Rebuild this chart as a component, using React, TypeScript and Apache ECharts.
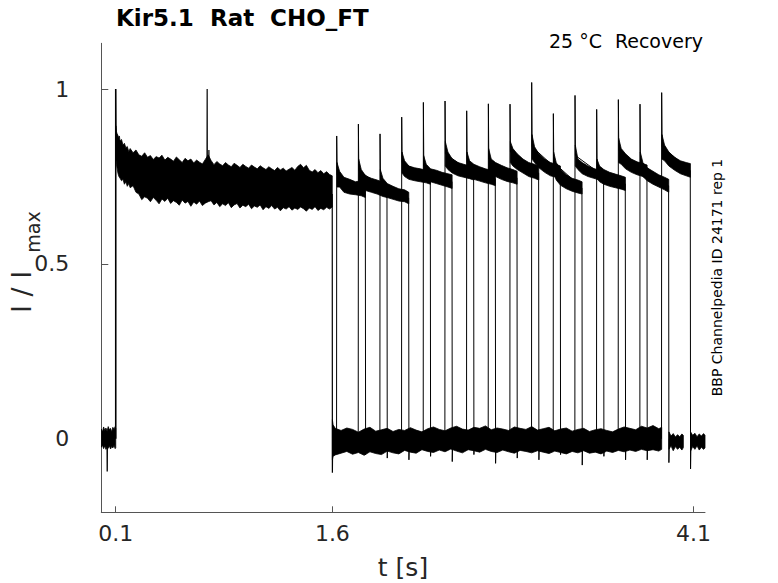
import React, { useEffect, useRef } from "react";
import * as echarts from "echarts";

// ---- axis ticks ----
const xTicks = [0.1, 1.6, 4.1];
const yTicks = [0, 0.5, 1];

// ---- baseline before the first pulse (noise band envelope) ----
const preT = [0, 0.008, 0.016, 0.024, 0.032, 0.04, 0.048, 0.056, 0.064, 0.072, 0.08, 0.088, 0.096, 0.1];
const preHi = [0.028, 0.02, 0.034, 0.024, 0.031, 0.022, 0.035, 0.026, 0.03, 0.02, 0.033, 0.027, 0.035, 0.03];
const preLo = [-0.024, -0.018, -0.028, -0.02, -0.03, -0.024, -0.027, -0.02, -0.029, -0.022, -0.026, -0.018, -0.028, -0.025];

// ---- first pulse (all sweeps overlaid), envelope of the noisy band ----
const p1T = [0.101, 0.105, 0.11, 0.115, 0.12, 0.125, 0.13, 0.14, 0.15, 0.16, 0.17, 0.18, 0.19, 0.2, 0.22, 0.24, 0.26, 0.28, 0.3, 0.32, 0.34, 0.36, 0.38, 0.4, 0.42, 0.44, 0.46, 0.48, 0.5, 0.52, 0.54, 0.56, 0.58, 0.6, 0.62, 0.64, 0.66, 0.68, 0.7, 0.72, 0.74, 0.76, 0.78, 0.8, 0.82, 0.84, 0.86, 0.88, 0.9, 0.92, 0.94, 0.96, 0.98, 1.0, 1.02, 1.04, 1.06, 1.08, 1.1, 1.12, 1.14, 1.16, 1.18, 1.2, 1.22, 1.24, 1.26, 1.28, 1.3, 1.32, 1.34, 1.36, 1.38, 1.4, 1.42, 1.44, 1.46, 1.48, 1.5, 1.52, 1.54, 1.56, 1.58, 1.599];
const p1Hi = [0.895, 0.878, 0.872, 0.868, 0.861, 0.866, 0.852, 0.856, 0.84, 0.845, 0.832, 0.836, 0.821, 0.83, 0.818, 0.826, 0.812, 0.808, 0.818, 0.805, 0.81, 0.799, 0.807, 0.803, 0.811, 0.797, 0.805, 0.8, 0.794, 0.806, 0.798, 0.79, 0.802, 0.795, 0.8, 0.789, 0.797, 0.791, 0.786, 0.799, 0.812, 0.796, 0.784, 0.793, 0.786, 0.781, 0.79, 0.783, 0.778, 0.788, 0.782, 0.776, 0.785, 0.779, 0.774, 0.783, 0.777, 0.772, 0.781, 0.775, 0.77, 0.778, 0.772, 0.767, 0.776, 0.769, 0.774, 0.766, 0.771, 0.776, 0.768, 0.779, 0.785, 0.775, 0.782, 0.768, 0.763, 0.77, 0.761, 0.767, 0.758, 0.764, 0.756, 0.752];
const p1Lo = [0.8, 0.785, 0.772, 0.76, 0.752, 0.748, 0.745, 0.738, 0.742, 0.728, 0.735, 0.722, 0.73, 0.718, 0.724, 0.705, 0.7, 0.684, 0.692, 0.688, 0.678, 0.69, 0.682, 0.672, 0.686, 0.679, 0.688, 0.673, 0.681, 0.676, 0.668, 0.683, 0.674, 0.679, 0.665, 0.677, 0.671, 0.68, 0.667, 0.674, 0.678, 0.681, 0.669, 0.676, 0.664, 0.672, 0.667, 0.675, 0.661, 0.669, 0.673, 0.66, 0.668, 0.664, 0.671, 0.658, 0.666, 0.662, 0.669, 0.655, 0.664, 0.659, 0.667, 0.657, 0.662, 0.652, 0.661, 0.657, 0.664, 0.654, 0.66, 0.656, 0.663, 0.658, 0.651, 0.66, 0.656, 0.664, 0.653, 0.659, 0.655, 0.662, 0.657, 0.663];
const p1OnsetT = 0.1;
const p1OnsetPeak = 1.0;
const p1EndT = 1.6;
const p1EndLevel = 0.7;
const p1EndTail = -0.097;
const preSpikeT = 0.041;
const preSpikeV = -0.093;
const p1SpikeT = [0.733, 0.745];
const p1SpikePeak = [1.0, 0.826];
const p1SpikeBase = [0.78, 0.785];

// ---- baseline between pulses (many sweeps overlaid) ----
const gapT = [1.6, 1.605, 1.62, 1.66, 1.7, 1.74, 1.78, 1.82, 1.86, 1.9, 1.94, 1.98, 2.02, 2.06, 2.1, 2.14, 2.18, 2.22, 2.26, 2.3, 2.34, 2.38, 2.42, 2.46, 2.5, 2.54, 2.58, 2.62, 2.66, 2.7, 2.74, 2.78, 2.82, 2.86, 2.9, 2.94, 2.98, 3.02, 3.06, 3.1, 3.14, 3.18, 3.22, 3.26, 3.3, 3.34, 3.38, 3.42, 3.46, 3.5, 3.54, 3.58, 3.62, 3.66, 3.7, 3.74, 3.78, 3.82, 3.86, 3.88];
const gapHi = [0.055, 0.04, 0.03, 0.024, 0.031, 0.027, 0.019, 0.028, 0.033, 0.022, 0.026, 0.03, 0.021, 0.027, 0.024, 0.032, 0.025, 0.02, 0.029, 0.034, 0.027, 0.023, 0.031, 0.036, 0.028, 0.025, 0.033, 0.03, 0.037, 0.026, 0.031, 0.028, 0.024, 0.034, 0.03, 0.027, 0.035, 0.025, 0.029, 0.033, 0.023, 0.028, 0.031, 0.022, 0.027, 0.03, 0.021, 0.026, 0.029, 0.024, 0.02, 0.028, 0.034, 0.03, 0.026, 0.036, 0.031, 0.038, 0.029, 0.033];
const gapLo = [-0.06, -0.05, -0.046, -0.041, -0.036, -0.044, -0.039, -0.047, -0.037, -0.042, -0.045, -0.035, -0.04, -0.043, -0.033, -0.038, -0.041, -0.031, -0.036, -0.039, -0.032, -0.037, -0.029, -0.035, -0.04, -0.031, -0.034, -0.038, -0.03, -0.036, -0.039, -0.032, -0.037, -0.041, -0.033, -0.036, -0.04, -0.034, -0.038, -0.042, -0.035, -0.039, -0.043, -0.036, -0.04, -0.034, -0.041, -0.038, -0.043, -0.035, -0.039, -0.033, -0.037, -0.032, -0.036, -0.03, -0.034, -0.031, -0.035, -0.03];

// ---- late baseline pieces (few sweeps) ----
const lateAT = [3.93, 3.945, 3.96, 3.975, 3.99, 4.005, 4.02, 4.03];
const lateAHi = [0.02, 0.008, 0.015, 0.005, 0.012, 0.006, 0.014, 0.01];
const lateALo = [-0.03, -0.02, -0.034, -0.022, -0.03, -0.024, -0.032, -0.025];
const lateBT = [4.08, 4.095, 4.11, 4.125, 4.14, 4.155, 4.17, 4.18];
const lateBHi = [0.02, 0.01, 0.016, 0.006, 0.014, 0.008, 0.015, 0.01];
const lateBLo = [-0.035, -0.022, -0.03, -0.02, -0.032, -0.024, -0.03, -0.026];

// ---- second (recovery) pulses, one per sweep ----
const p2Onset = [1.63, 1.78, 1.93, 2.08, 2.23, 2.38, 2.53, 2.68, 2.83, 2.98, 3.13, 3.28, 3.43, 3.58, 3.73, 3.88];
const p2Peak = [0.866, 0.9, 0.872, 0.92, 0.962, 0.966, 0.938, 0.958, 0.957, 1.019, 0.93, 0.982, 0.942, 0.97, 0.957, 0.99];
const p2Duration = 0.2;
const p2Offset = [0.002, 0.02, 0.05, 0.09, 0.13, 0.17, 0.199];
const p2Hi = [
  [0.79, 0.765, 0.748, 0.742, 0.735, 0.738, 0.73],
  [0.8, 0.77, 0.752, 0.745, 0.74, 0.734, 0.728],
  [0.77, 0.745, 0.73, 0.722, 0.715, 0.712, 0.705],
  [0.82, 0.795, 0.78, 0.775, 0.772, 0.768, 0.765],
  [0.81, 0.785, 0.772, 0.768, 0.762, 0.758, 0.755],
  [0.85, 0.82, 0.8, 0.79, 0.785, 0.78, 0.775],
  [0.82, 0.795, 0.785, 0.778, 0.772, 0.768, 0.763],
  [0.83, 0.8, 0.79, 0.782, 0.775, 0.77, 0.765],
  [0.85, 0.83, 0.815, 0.8, 0.79, 0.785, 0.78],
  [0.87, 0.835, 0.815, 0.8, 0.79, 0.785, 0.78],
  [0.82, 0.79, 0.77, 0.755, 0.745, 0.74, 0.735],
  [0.84, 0.8, 0.79, 0.78, 0.773, 0.768, 0.765],
  [0.8, 0.78, 0.77, 0.762, 0.757, 0.752, 0.748],
  [0.86, 0.83, 0.815, 0.8, 0.792, 0.787, 0.783],
  [0.82, 0.79, 0.775, 0.765, 0.755, 0.748, 0.742],
  [0.87, 0.84, 0.82, 0.805, 0.795, 0.79, 0.787],
];
const p2Lo = [
  [0.72, 0.72, 0.705, 0.7, 0.698, 0.695, 0.69],
  [0.735, 0.725, 0.71, 0.705, 0.7, 0.693, 0.69],
  [0.71, 0.7, 0.69, 0.685, 0.68, 0.678, 0.672],
  [0.76, 0.75, 0.742, 0.738, 0.735, 0.732, 0.728],
  [0.75, 0.742, 0.735, 0.73, 0.725, 0.72, 0.716],
  [0.78, 0.77, 0.76, 0.752, 0.748, 0.744, 0.74],
  [0.76, 0.75, 0.742, 0.737, 0.732, 0.728, 0.724],
  [0.77, 0.76, 0.75, 0.742, 0.736, 0.732, 0.728],
  [0.79, 0.78, 0.77, 0.76, 0.75, 0.745, 0.74],
  [0.8, 0.79, 0.775, 0.762, 0.752, 0.748, 0.744],
  [0.76, 0.74, 0.725, 0.715, 0.708, 0.703, 0.7],
  [0.78, 0.77, 0.758, 0.75, 0.745, 0.74, 0.737],
  [0.745, 0.735, 0.728, 0.722, 0.718, 0.714, 0.71],
  [0.79, 0.785, 0.772, 0.762, 0.755, 0.75, 0.745],
  [0.76, 0.75, 0.738, 0.728, 0.72, 0.712, 0.705],
  [0.8, 0.795, 0.78, 0.768, 0.758, 0.752, 0.748],
];
const p2Tail = [-0.045, -0.055, -0.06, -0.05, -0.065, -0.045, -0.07, -0.055, -0.06, -0.045, -0.075, -0.05, -0.06, -0.06, -0.068, -0.086];

// ---- texts ----
const titleParts = ["Kir5.1", "Rat", "CHO_FT"];
const conditionParts = ["25 °C", "Recovery"];
const sideNote = "BBP Channelpedia ID 24171 rep 1";
const xName = "t [s]";
const yNameMain = "I / I";
const yNameSub = "max";

const FONT = "'DejaVu Sans', 'Liberation Sans', sans-serif";
const INK = "#000";

function bandSeries(ts: number[], his: number[], los: number[]) {
  return {
    type: "custom",
    silent: true,
    clip: true,
    z: 2,
    data: [[ts[0], his[0]]],
    renderItem: (_params: any, api: any) => {
      const pts: number[][] = [];
      for (let i = 0; i < ts.length; i++) pts.push(api.coord([ts[i], his[i]]));
      for (let i = ts.length - 1; i >= 0; i--) pts.push(api.coord([ts[i], los[i]]));
      return {
        type: "polygon",
        shape: { points: pts },
        style: { fill: INK, stroke: INK, lineWidth: 0.8 },
      };
    },
  };
}

function lineSeries(data: number[][], width = 1) {
  return {
    type: "line",
    silent: true,
    z: 3,
    showSymbol: false,
    symbol: "none",
    data,
    lineStyle: { color: INK, width },
    clip: true,
  };
}

function buildOption() {
  const series: any[] = [];
  series.push(bandSeries(preT, preHi, preLo));
  series.push(bandSeries(p1T, p1Hi, p1Lo));
  series.push(bandSeries(gapT, gapHi, gapLo));
  series.push(bandSeries(lateAT, lateAHi, lateALo));
  series.push(bandSeries(lateBT, lateBHi, lateBLo));

  p2Onset.forEach((on, k) => {
    const ts = p2Offset.map((o) => on + o);
    series.push(bandSeries(ts, p2Hi[k], p2Lo[k]));
    const end = on + p2Duration;
    const n = p2Hi[k].length - 1;
    series.push(
      lineSeries([
        [on - 0.001, 0],
        [on, p2Peak[k]],
        [on + 0.003, (p2Hi[k][0] + p2Lo[k][0]) / 2],
        [end - 0.002, (p2Hi[k][n] + p2Lo[k][n]) / 2],
        [end, p2Tail[k]],
        [end + 0.003, 0],
      ])
    );
  });

  // first-pulse edges and artefacts
  series.push(lineSeries([[preSpikeT - 0.001, 0], [preSpikeT, preSpikeV], [preSpikeT + 0.001, 0]], 1.3));
  series.push(lineSeries([[p1OnsetT, 0], [p1OnsetT, p1OnsetPeak], [p1OnsetT + 0.0015, p1Hi[0] - 0.03]], 1.6));
  series.push(lineSeries([[p1EndT - 0.001, p1EndLevel], [p1EndT, p1EndTail], [p1EndT + 0.002, 0]], 1.2));
  p1SpikeT.forEach((t, i) => {
    series.push(lineSeries([[t - 0.001, p1SpikeBase[i]], [t, p1SpikePeak[i]], [t + 0.001, p1SpikeBase[i]]], 1.2));
  });

  const txt = (
    text: string,
    x: number,
    y: number,
    size: number,
    align: string,
    weight = "normal",
    rotation = 0,
    fill = "#262626"
  ) => ({
    type: "text",
    x,
    y,
    rotation,
    silent: true,
    style: {
      text,
      fill,
      font: `${weight} ${size}px ${FONT}`,
      textAlign: align,
      textVerticalAlign: "middle",
      verticalAlign: "middle",
    },
  });

  const graphic = [
    txt(titleParts[0], 116, 18, 23, "left", "bold", 0, "#000"),
    txt(titleParts[1], 210, 18, 23, "left", "bold", 0, "#000"),
    txt(titleParts[2], 270, 18, 23, "left", "bold", 0, "#000"),
    txt(conditionParts[1], 703, 41, 19, "right", "normal", 0, "#000"),
    txt(conditionParts[0], 602, 41, 19, "right", "normal", 0, "#000"),
    txt(sideNote, 716.5, 277.5, 14, "center", "normal", Math.PI / 2, "#000"),
    txt(xName, 403, 567, 25, "center"),
    txt(yNameMain, 21, 292, 27, "center", "normal", Math.PI / 2),
    txt(yNameSub, 33, 232, 19, "center", "normal", Math.PI / 2),
  ];

  return {
    animation: false,
    backgroundColor: "#fff",
    grid: { left: 101.3, top: 43.3, right: 73, bottom: 70.7, containLabel: false, outerBoundsMode: "none" },
    xAxis: {
      type: "value",
      min: 0,
      max: 4.18,
      axisLine: { show: true, onZero: false, lineStyle: { color: "#555", width: 1 } },
      axisTick: { show: true, inside: true, length: 6, customValues: xTicks, lineStyle: { color: "#555" } },
      axisLabel: {
        customValues: xTicks,
        formatter: (v: number) => String(v),
        fontSize: 22,
        fontFamily: FONT,
        color: "#262626",
        margin: 10,
      },
      splitLine: { show: false },
    },
    yAxis: {
      type: "value",
      min: -0.21,
      max: 1.131,
      axisLine: { show: true, onZero: false, lineStyle: { color: "#555", width: 1 } },
      axisTick: { show: true, inside: true, length: 7, customValues: yTicks, lineStyle: { color: "#555" } },
      axisLabel: {
        customValues: yTicks,
        formatter: (v: number) => String(v),
        fontSize: 22,
        fontFamily: FONT,
        color: "#262626",
        margin: 32,
      },
      splitLine: { show: false },
    },
    graphic,
    series,
  };
}

export default function App() {
  const ref = useRef<HTMLDivElement>(null);
  useEffect(() => {
    if (!ref.current) return;
    const chart = echarts.init(ref.current, null, { renderer: "svg" });
    chart.setOption(buildOption() as any);
    return () => chart.dispose();
  }, []);
  return (
    <div
      ref={ref}
      style={{ position: "fixed", left: 0, top: 0, width: 778, height: 583, background: "#fff" }}
    />
  );
}
